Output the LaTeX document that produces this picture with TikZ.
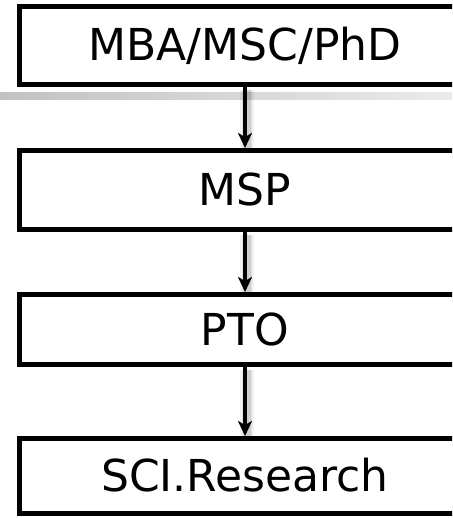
\documentclass[tikz,border=0pt]{standalone}
\usepackage{fontspec}
\setmainfont{DejaVu Sans}
\usetikzlibrary{arrows.meta}
\begin{document}
\begin{tikzpicture}[x=1pt,y=-1pt,
  stagebox/.style={draw=black, line width=5pt, rectangle, minimum width=451pt,
    inner sep=0pt, text height=31pt, text depth=0pt,
    font=\fontsize{44}{48}\selectfont},
  flowarrow/.style={draw=black, line width=4.5pt,
    -{Stealth[length=15pt,width=14pt,inset=4pt]}},
  glow/.style={draw=black, line cap=butt}
]
\clip (0,0) rectangle (452,518);
\useasboundingbox (0,0) rectangle (452,518);
% gray bar
\shade[left color=black!24, right color=black!8] (0,93) rectangle (452,100);
% boxes
\node[stagebox, minimum height=78pt] (b1) at (245,45.5) {MBA/MSC/PhD};
\node[stagebox, minimum height=79pt] (b2) at (245,190) {MSP};
\node[stagebox, minimum height=70pt] (b3) at (245,329.5) {PTO};
\node[stagebox, minimum height=75pt] (b4) at (245,476) {SCI.Research};
% glow behind arrows
\foreach \a/\b in {b1/b2, b2/b3, b3/b4}{
  \begin{scope}[transform canvas={xshift=2pt,yshift=-3pt}]
    \draw[glow, line width=14pt, draw opacity=0.05] (\a.south) -- (\b.north);
    \draw[glow, line width=10pt, draw opacity=0.07] (\a.south) -- (\b.north);
    \draw[glow, line width=7pt, draw opacity=0.08] (\a.south) -- (\b.north);
  \end{scope}
}
% arrows
\draw[flowarrow] (b1.south) -- (b2.north);
\draw[flowarrow] (b2.south) -- (b3.north);
\draw[flowarrow] (b3.south) -- (b4.north);
\end{tikzpicture}
\end{document}
